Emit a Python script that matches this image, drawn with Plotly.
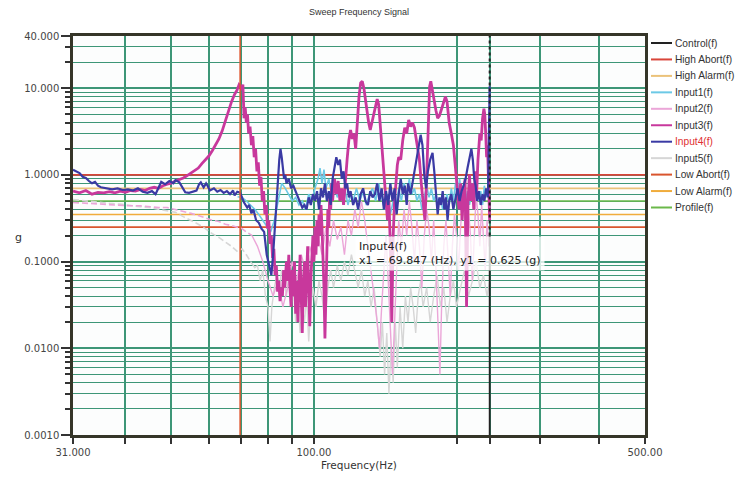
import math
import plotly.graph_objects as go

# ---------------- data ----------------
in4_f = [31.0, 31.5, 32.0, 32.5, 33.0, 33.5, 34.0, 34.5, 35.0, 35.5,
         36.5, 37.5, 38.5, 39.5, 40.5, 41.5, 42.5, 43.5, 44.5, 45.5,
         46.3, 47.0, 47.6, 48.5, 49.5, 50.5, 51.0, 52.0, 52.8, 53.5,
         54.5, 55.5, 56.5, 57.2, 57.7, 58.5, 59.2, 59.7, 60.3, 61.5,
         62.5, 63.5, 64.5, 65.5, 66.5, 67.5, 68.0, 68.9, 69.85, 70.5,
         71.2, 72.3, 73.0, 73.8, 74.5, 75.5, 76.5, 77.5, 78.5, 79.5,
         80.5, 81.3, 82.0, 82.8, 83.5, 84.0, 84.5, 85.0, 85.5, 86.0,
         86.5, 87.0, 87.5, 88.5, 89.5, 90.5, 91.5, 92.5, 93.5, 94.5,
         95.5, 96.5, 97.5, 98.5, 99.5, 100.5, 101.5, 102.5, 103.5, 104.5,
         105.5, 106.5, 107.5, 108.5, 109.5, 110.5, 111.5, 112.5, 113.5, 114.5,
         115.5, 116.5, 117.5, 118.5, 119.5, 121.0, 122.5, 124.0, 125.5, 127.0,
         128.5, 130.0, 131.5, 133.0, 134.5, 136.0, 137.5, 139.0, 140.5, 142.0,
         143.5, 145.0, 146.5, 148.0, 149.5, 151.0, 152.5, 154.0, 155.5, 157.0,
         158.0, 160.0, 162.0, 164.0, 166.0, 168.0, 169.5, 171.0, 172.5, 174.0,
         176.0, 178.0, 179.5, 181.0, 182.5, 184.0, 185.5, 187.0, 188.5, 190.0,
         191.5, 193.0, 195.0, 197.0, 199.0, 201.0, 203.0, 205.0, 207.0, 209.0,
         211.0, 213.0, 215.0, 216.5, 218.0, 219.5, 221.0, 223.0, 225.0, 227.0,
         229.0, 231.0, 233.0, 234.0, 235.0]
in4_g = [1.15, 1.10, 1.05, 0.95, 0.92, 0.85, 0.80, 0.83, 0.75, 0.72,
         0.70, 0.68, 0.70, 0.67, 0.68, 0.66, 0.70, 0.64, 0.62, 0.65,
         0.60, 0.72, 0.83, 0.78, 0.85, 0.80, 0.87, 0.82, 0.70, 0.63,
         0.62, 0.64, 0.66, 0.78, 0.82, 0.72, 0.80, 0.74, 0.66, 0.70,
         0.64, 0.67, 0.62, 0.65, 0.60, 0.66, 0.58, 0.64, 0.625, 0.55,
         0.48, 0.42, 0.45, 0.36, 0.40, 0.30, 0.28, 0.24, 0.22, 0.12,
         0.09, 0.07, 0.12, 0.25, 0.45, 0.90, 1.50, 2.00, 1.60, 1.20,
         0.90, 1.00, 0.80, 0.90, 0.70, 0.75, 0.65, 0.55, 0.50, 0.42,
         0.45, 0.40, 0.55, 0.45, 0.60, 0.50, 0.65, 0.40, 0.70, 0.55,
         0.80, 0.50, 0.65, 0.45, 0.90, 1.20, 1.60, 1.30, 1.50, 0.90,
         1.10, 0.70, 0.80, 0.55, 0.65, 0.45, 0.55, 0.40, 0.60, 0.70,
         0.50, 0.45, 0.65, 0.55, 0.60, 0.80, 0.50, 0.70, 0.40, 0.65,
         0.45, 0.80, 0.50, 0.70, 0.35, 0.60, 0.90, 0.60, 0.75, 0.45,
         0.80, 0.60, 0.90, 1.20, 1.80, 2.90, 2.20, 1.00, 0.70, 1.10,
         1.50, 1.80, 1.10, 0.60, 0.35, 0.55, 0.45, 0.65, 0.40, 0.55,
         0.30, 0.50, 0.60, 0.40, 0.55, 0.70, 0.50, 0.65, 0.75, 0.90,
         1.20, 1.60, 2.00, 1.50, 0.90, 0.75, 0.50, 0.65, 0.45, 0.60,
         0.50, 0.70, 0.55, 2.50, 10.5]

in3_f = [31, 32, 33, 34, 35, 36, 37, 38, 39, 40,
         41, 42, 43, 44, 45, 46, 47, 48, 49, 50,
         51, 52, 53, 54, 55, 56, 57, 58, 59, 60,
         61, 62, 63, 64, 65, 66, 67, 68, 68.8, 69.5,
         70.0, 70.4, 70.8, 71.2, 71.6, 72.0, 72.4, 72.8, 73.3, 73.8,
         74.3, 74.8, 75.3, 75.8, 76.3, 76.8, 77.3, 77.8, 78.3, 78.8,
         79.3, 79.8, 80.3, 80.8, 81.3, 81.8, 82.3, 82.8, 83.3, 83.8,
         84.3, 84.8, 85.3, 85.8, 86.3, 86.8, 87.5, 88.0, 88.5, 89.0,
         89.5, 90.0, 90.5, 91.0, 91.5, 92.0, 92.5, 93.0, 93.5, 94.0,
         94.5, 95.0, 95.5, 96.0, 96.5, 97.0, 97.5, 98.0, 98.5, 99.0,
         99.5, 100.0, 100.5, 101.0, 101.5, 102.0, 102.5, 103.0, 103.5, 104.0,
         104.5, 105.0, 105.5, 106.0, 106.5, 107.0, 107.5, 108.0, 108.5, 109.0,
         109.5, 110.5, 111.5, 112.5, 113.5, 114.5, 115.5, 116.5, 117.5, 118.5,
         119.5, 120.5, 121.5, 122.5, 123.5, 124.5, 125.5, 126.5, 127.5, 128.5,
         129.5, 130.5, 131.5, 133.0, 134.5, 136.0, 137.0, 138.0, 139.0, 140.0,
         141.0, 142.0, 143.0, 144.0, 145.0, 146.0, 147.0, 148.0, 149.0, 150.0,
         151.0, 152.5, 154.0, 155.5, 157.0, 158.5, 160.0, 161.5, 163.0, 164.5,
         165.5, 167.0, 168.5, 170.0, 171.5, 172.5, 173.5, 174.5, 175.5,
         176.5, 177.5, 178.5, 179.5, 181.0, 182.5, 184.0, 185.5, 187.0, 189.5,
         191.0, 193.0, 195.0, 197.0, 199.0, 201.0, 202.5, 204.0, 205.5, 207.0,
         208.5, 210.0, 211.5, 213.0, 214.5, 216.0, 217.5, 219.0, 220.5, 222.0,
         223.0, 224.0, 225.5, 227.0, 228.5, 229.5, 230.5, 231.5, 232.5, 233.5,
         234.0, 234.5, 235.0]
in3_g = [0.65, 0.62, 0.66, 0.60, 0.63, 0.62, 0.64, 0.62, 0.65, 0.63,
         0.66, 0.65, 0.68, 0.66, 0.70, 0.72, 0.70, 0.75, 0.78, 0.80,
         0.85, 0.88, 0.92, 0.98, 1.05, 1.12, 1.20, 1.35, 1.50, 1.65,
         1.90, 2.20, 2.60, 3.20, 4.20, 5.50, 7.00, 8.50, 9.50, 11.0,
         10.5, 9.5, 11.0, 4.5, 6.0, 4.0, 5.0, 3.0, 3.6, 2.2,
         2.8, 1.6, 2.0, 1.1, 1.4, 0.75, 0.95, 0.50, 0.65, 0.35,
         0.45, 0.24, 0.30, 0.16, 0.20, 0.11, 0.14, 0.07, 0.09, 0.045,
         0.06, 0.035, 0.05, 0.04, 0.08, 0.05, 0.10, 0.06, 0.12, 0.05,
         0.03, 0.08, 0.04, 0.10, 0.025, 0.06, 0.02, 0.05, 0.12, 0.04,
         0.015, 0.06, 0.10, 0.03, 0.08, 0.15, 0.05, 0.018, 0.06, 0.12,
         0.20, 0.10, 0.25, 0.12, 0.30, 0.15, 0.35, 0.20, 0.45, 0.25,
         0.12, 0.05, 0.013, 0.04, 0.15, 0.40, 0.25, 0.60, 0.40, 0.80,
         0.50, 0.90, 0.60, 0.85, 0.50, 0.70, 0.45, 0.90, 1.50, 2.50,
         3.30, 2.60, 3.00, 2.00, 4.50, 8.00, 11.5, 12.0, 10.0, 7.00,
         5.00, 4.00, 3.30, 4.50, 6.00, 7.50, 6.50, 4.00, 2.50, 1.50,
         0.90, 0.50, 0.30, 0.50, 0.15, 0.02, 0.20, 0.50, 0.90, 1.30,
         1.60, 1.50, 2.50, 3.50, 3.00, 4.30, 3.60, 4.00, 3.50, 2.50,
         2.00, 1.50, 0.80, 0.50, 0.30, 0.60, 2.00, 6.00, 10.5,
         12.0, 10.0, 8.00, 7.00, 5.50, 4.50, 4.80, 5.50, 6.50, 8.00,
         7.00, 4.00, 3.00, 2.20, 1.20, 0.70, 0.40, 0.80, 0.30, 0.60,
         0.90, 0.03, 0.50, 1.00, 0.50, 0.80, 0.40, 1.10, 0.60, 1.50,
         2.00, 3.00, 2.50, 4.50, 5.80, 5.00, 3.00, 1.60, 2.20, 1.00,
         0.60, 0.40, 0.30]

in2_f = [31, 33, 35, 37, 39, 41, 43, 45, 47, 49,
         51, 53, 55, 57, 59, 61, 63, 65, 67, 69,
         70.5, 72, 74, 76, 78, 80, 82, 84, 86, 88,
         90, 92, 94, 96, 98, 100, 102, 104, 106, 108,
         110, 112, 114, 116, 118, 120, 122, 124, 126, 128,
         130, 132, 134, 136, 137.5, 139, 140.5, 142, 143.5, 145,
         146.5, 148, 149.5, 151, 153, 155, 157, 159, 161, 163,
         165, 167, 169, 171, 173, 175, 177, 179, 181, 183,
         184.5, 186, 188, 190, 192, 194, 196, 198, 200, 202,
         204, 206, 208, 210, 212, 214, 216, 218, 220, 222,
         224, 226, 228, 230, 232, 234, 235]
in2_g = [0.48, 0.47, 0.46, 0.46, 0.45, 0.44, 0.44, 0.43, 0.42, 0.42,
         0.40, 0.38, 0.36, 0.34, 0.32, 0.30, 0.29, 0.27, 0.26, 0.25,
         0.24, 0.22, 0.20, 0.15, 0.10, 0.06, 0.04, 0.06, 0.03, 0.05,
         0.10, 0.06, 0.12, 0.08, 0.15, 0.10, 0.20, 0.12, 0.25, 0.15,
         0.30, 0.18, 0.25, 0.12, 0.30, 0.20, 0.40, 0.25, 0.50, 0.30,
         0.15, 0.08, 0.04, 0.02, 0.01, 0.03, 0.08, 0.20, 0.06, 0.015,
         0.005, 0.02, 0.10, 0.30, 0.15, 0.40, 0.20, 0.50, 0.25, 0.10,
         0.30, 0.15, 0.05, 0.20, 0.40, 0.25, 0.10, 0.30, 0.08, 0.02,
         0.005, 0.03, 0.15, 0.30, 0.10, 0.04, 0.15, 0.35, 0.20, 0.08,
         0.25, 0.50, 0.30, 0.10, 0.40, 0.20, 0.06, 0.25, 0.60, 0.35,
         0.15, 0.45, 0.20, 0.08, 0.30, 0.15, 0.20]

in5_f = [31, 33, 35, 37, 39, 41, 43, 45, 47, 49,
         51, 53, 55, 57, 59, 61, 63, 65, 67, 69,
         70.5, 72, 73.5, 75, 76, 77, 78, 79, 80, 80.8,
         81.5, 82.5, 83.5, 84.5, 85.5, 86.5, 87.5, 88.5, 89.5, 90.5,
         91.5, 92.5, 93.5, 94.5, 95.5, 96.5, 97.5, 98.5, 99.5, 101,
         102.5, 104, 105.5, 107, 108.5, 110, 112, 114, 116, 118,
         120, 122, 124, 126, 128, 130, 132, 134, 136, 138,
         139.5, 141, 142.5, 144, 145.5, 147, 148.5, 150, 152, 154,
         156, 158, 160, 162, 164, 166, 168, 170, 173, 176,
         179, 182, 185, 188, 191, 194, 197, 200, 204, 208,
         212, 216, 220, 224, 228, 232, 235]
in5_g = [0.52, 0.50, 0.49, 0.47, 0.46, 0.44, 0.43, 0.42, 0.40, 0.38,
         0.37, 0.33, 0.30, 0.27, 0.24, 0.21, 0.19, 0.17, 0.15, 0.13,
         0.14, 0.12, 0.10, 0.085, 0.09, 0.06, 0.08, 0.04, 0.03, 0.012,
         0.03, 0.05, 0.07, 0.05, 0.08, 0.06, 0.04, 0.07, 0.03, 0.05,
         0.02, 0.04, 0.015, 0.03, 0.02, 0.04, 0.012, 0.03, 0.05, 0.03,
         0.06, 0.04, 0.02, 0.05, 0.08, 0.05, 0.09, 0.06, 0.10, 0.07,
         0.12, 0.08, 0.05, 0.08, 0.04, 0.06, 0.03, 0.05, 0.02, 0.008,
         0.02, 0.005, 0.015, 0.003, 0.01, 0.004, 0.02, 0.006, 0.03, 0.01,
         0.04, 0.02, 0.05, 0.03, 0.015, 0.04, 0.06, 0.03, 0.05, 0.02,
         0.04, 0.07, 0.03, 0.05, 0.02, 0.04, 0.06, 0.03, 0.05, 0.08,
         0.04, 0.06, 0.10, 0.05, 0.07, 0.04, 0.06]

in1_f = [69, 70.5,
         72, 73.5, 75, 76.5, 78, 79.5, 81, 82.5, 84, 85.5,
         87, 88.5, 90, 91.5, 93, 94.5, 96, 97.5, 99, 100.5,
         102, 103, 104, 105, 106, 107.5, 109, 110.5, 112, 113.5,
         115, 116.5, 118, 119.5, 121, 123, 125, 127, 129, 131,
         133, 135, 137, 139, 141, 143, 145, 147, 149, 151,
         153, 155, 157, 159, 161, 163, 165, 167, 169, 171,
         173, 175, 177, 179, 181, 183, 185, 187, 189, 191,
         193, 195, 197, 199, 201, 203, 205, 207, 209, 211,
         213, 215, 217, 219, 221, 223, 225, 227, 229, 231,
         233, 235]
in1_g = [0.56, 0.55,
         0.50, 0.45, 0.40, 0.35, 0.30, 0.25, 0.22, 0.30, 0.50, 0.80,
         0.70, 0.60, 0.50, 0.55, 0.45, 0.50, 0.40, 0.60, 0.50, 0.70,
         0.90, 1.20, 0.80, 1.15, 0.70, 0.90, 0.60, 0.75, 0.55, 0.70,
         0.50, 0.65, 0.45, 0.60, 0.50, 0.70, 0.50, 0.65, 0.45, 0.60,
         0.70, 0.50, 0.80, 0.55, 0.40, 0.60, 0.35, 0.50, 0.40, 0.70,
         0.50, 0.80, 0.60, 0.90, 0.60, 0.70, 0.50, 0.60, 0.40, 0.55,
         0.75, 0.55, 0.70, 0.50, 0.60, 0.45, 0.55, 0.40, 0.50, 0.60,
         0.45, 0.70, 0.50, 0.80, 0.55, 0.90, 0.60, 0.75, 0.50, 0.65,
         0.45, 0.60, 0.80, 0.55, 0.70, 0.50, 0.65, 0.45, 0.75, 0.55,
         0.70, 0.50]

limit_names = ["High Abort(f)", "High Alarm(f)", "Profile(f)", "Low Alarm(f)", "Low Abort(f)"]
limit_values = [1.0, 0.70, 0.50, 0.35, 0.25]
freq_span = [31, 500]

cursor_freq = 69.847
sweep_freq = 235.0

legend_names = ["Control(f)", "High Abort(f)", "High Alarm(f)", "Input1(f)", "Input2(f)",
                "Input3(f)", "Input4(f)", "Input5(f)", "Low Abort(f)", "Low Alarm(f)", "Profile(f)"]

x_tick_vals = [31, 40, 50, 60, 70, 80, 90, 100, 200, 235, 300, 400, 500]
x_tick_text = ["31.000", "", "", "", "", "", "", "100.00", "", "", "", "", "500.00"]
y_tick_vals = [0.001, 0.01, 0.1, 1, 10, 40]
y_tick_text = ["0.0010", "0.0100", "0.1000", "1.0000", "10.000", "40.000"]
y_minor_vals = [m * d for d in (0.001, 0.01, 0.1, 1) for m in range(2, 10)] + [20, 30]

# ---------------- style ----------------
COLORS = {
    "Control(f)": "#222222",
    "High Abort(f)": "#d9453a",
    "High Alarm(f)": "#ebc27a",
    "Input1(f)": "#6cc9e6",
    "Input2(f)": "#eba6d8",
    "Input3(f)": "#c8389c",
    "Input4(f)": "#3a3aa4",
    "Input5(f)": "#d6d6d6",
    "Low Abort(f)": "#d9552e",
    "Low Alarm(f)": "#f0ac3c",
    "Profile(f)": "#6bb84a",
}
GRID = "#3d9677"
FONT = "DejaVu Sans, Verdana, sans-serif"
FONT_NARROW = "Liberation Sans, Arial, sans-serif"

# the page body has an 8px margin: figure coordinates = reference pixels - 8.
OFF = 8
FIG_W, FIG_H = 746 - 2 * OFF, 479 - 2 * OFF

fig = go.Figure()

for name, val in zip(limit_names, limit_values):
    fig.add_trace(go.Scatter(x=freq_span, y=[val, val], mode="lines", name=name,
                             line=dict(color=COLORS[name], width=1.6), hoverinfo="skip"))

# the low-level, slowly varying start of Input5 / Input2 looks broken (dashed)
def split_at(fs, gs, fcut):
    n = sum(1 for f in fs if f <= fcut)
    return (fs[:n], gs[:n]), (fs[n - 1:], gs[n - 1:])

for name, fs, gs in (("Input5(f)", in5_f, in5_g), ("Input2(f)", in2_f, in2_g)):
    (fa, ga), (fb, gb) = split_at(fs, gs, 74)
    fig.add_trace(go.Scatter(x=fa, y=ga, mode="lines", name=name,
                             line=dict(color=COLORS[name], width=1.6, dash="6px,3px")))
    fig.add_trace(go.Scatter(x=fb, y=gb, mode="lines", name=name, showlegend=False,
                             line=dict(color=COLORS[name], width=1.4)))

fig.add_trace(go.Scatter(x=in1_f, y=in1_g, mode="lines", name="Input1(f)",
                         line=dict(color=COLORS["Input1(f)"], width=1.6)))
fig.add_trace(go.Scatter(x=in3_f, y=in3_g, mode="lines", name="Input3(f)",
                         line=dict(color=COLORS["Input3(f)"], width=2.8)))
fig.add_trace(go.Scatter(x=in4_f, y=in4_g, mode="lines", name="Input4(f)",
                         line=dict(color=COLORS["Input4(f)"], width=2.2)))

# cursor (red) and sweep position (black)
fig.add_trace(go.Scatter(x=[cursor_freq, cursor_freq], y=[0.001, 40], mode="lines",
                         line=dict(color="#e0562e", width=1.5), hoverinfo="skip"))
fig.add_trace(go.Scatter(x=[sweep_freq, sweep_freq], y=[0.001, 0.2], mode="lines",
                         line=dict(color="#222222", width=1.8), hoverinfo="skip"))
fig.add_trace(go.Scatter(x=[sweep_freq, sweep_freq], y=[0.2, 40], mode="lines",
                         line=dict(color="#222222", width=2, dash="dot"), hoverinfo="skip"))

# plot area geometry in reference px
L, R, T, B = 73, 645, 36, 435
def px(x):
    return (x - L) / (R - L)
def py(y):
    return (B - y) / (B - T)

shapes = []
annotations = []
# custom legend
for i, name in enumerate(legend_names):
    yy = 43 + i * 16.45
    shapes.append(dict(type="line", xref="paper", yref="paper", x0=px(651), x1=px(672),
                       y0=py(yy), y1=py(yy), line=dict(color=COLORS[name], width=2)))
    annotations.append(dict(xref="paper", yref="paper", x=px(673), y=py(yy), text=name,
                            showarrow=False, xanchor="left", yanchor="middle",
                            font=dict(family=FONT_NARROW, size=10.2,
                                      color="#e03030" if name == "Input4(f)" else "#333333")))

# tooltip
annotations.append(dict(xref="paper", yref="paper", x=px(355), y=py(236),
                        text="Input4(f)<br>x1 = 69.847 (Hz), y1 = 0.625 (g)",
                        showarrow=False, xanchor="left", yanchor="top", align="left",
                        bgcolor="rgba(255,255,255,0.78)", borderpad=3,
                        font=dict(family=FONT, size=11, color="#222222")))
# axis titles
annotations.append(dict(xref="paper", yref="paper", x=0.5, y=py(465), text="Frequency(Hz)",
                        showarrow=False, xanchor="center", yanchor="middle",
                        font=dict(family=FONT, size=10.5, color="#333333")))
annotations.append(dict(xref="paper", yref="paper", x=px(18), y=py(237), text="g",
                        showarrow=False, xanchor="center", yanchor="middle",
                        font=dict(family=FONT, size=11, color="#333333")))

fig.update_layout(
    width=FIG_W, height=FIG_H,
    margin=dict(l=L - OFF, r=FIG_W - (R - OFF), t=T - OFF, b=FIG_H - (B - OFF),
                autoexpand=False),
    paper_bgcolor="white", plot_bgcolor="#fcfdfd",
    showlegend=False,
    font=dict(family=FONT, size=10, color="#444444"),
    title=dict(text="Sweep Frequency Signal", x=0.5, xref="paper", xanchor="center",
               y=1 - (12 - OFF) / FIG_H, yref="container", yanchor="middle",
               font=dict(family=FONT_NARROW, size=9, color="#333333")),
    shapes=shapes, annotations=annotations,
    hovermode=False,
)
fig.update_xaxes(type="log", range=[math.log10(31), math.log10(500)],
                 tickmode="array", tickvals=x_tick_vals, ticktext=x_tick_text,
                 ticks="outside", ticklen=6, tickwidth=1.5, tickcolor="#333333",
                 showgrid=True, gridcolor=GRID, gridwidth=1.6,
                 showline=True, linecolor="#353528", linewidth=2.5, mirror=True,
                 zeroline=False, tickfont=dict(family=FONT, size=10, color="#444444"))
fig.update_yaxes(type="log", range=[-3, math.log10(40)],
                 tickmode="array", tickvals=y_tick_vals, ticktext=y_tick_text,
                 ticks="outside", ticklen=9, tickwidth=1.5, tickcolor="#333333",
                 showgrid=True, gridcolor=GRID, gridwidth=1.6,
                 minor=dict(tickmode="array", tickvals=y_minor_vals, ticks="outside",
                            ticklen=5, tickwidth=1.5, tickcolor="#333333",
                            showgrid=True, gridcolor=GRID, gridwidth=1.4),
                 showline=True, linecolor="#353528", linewidth=2.5, mirror=True,
                 zeroline=False, tickfont=dict(family=FONT, size=10, color="#444444"))

fig.write_html("out.html")
